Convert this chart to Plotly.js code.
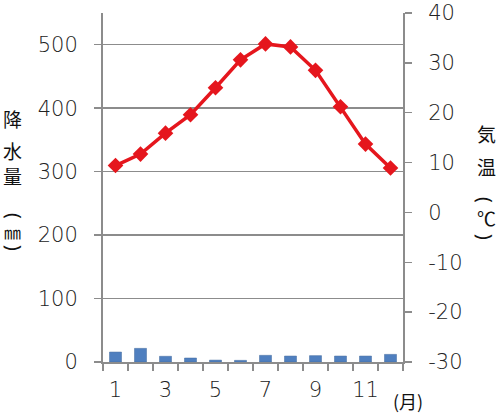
<!DOCTYPE html>
<html>
<head>
<meta charset="utf-8">
<script src="https://cdn.plot.ly/plotly-3.0.1.min.js"></script>
<style>html,body{margin:0;padding:0;background:#fff;}#chart{width:500px;height:414px;}</style>
</head>
<body>
<div id="chart"></div>
<script>
var months = ['1','2','3','4','5','6','7','8','9','10','11','12'];
var monthLabels = ['1','','3','','5','','7','','9','','11',''];
var precipitation = [15.7, 21.5, 9, 6.3, 3, 2.6, 10.5, 9.4, 10, 9.4, 9.4, 12];
var temperature = [9.4, 11.7, 15.9, 19.6, 25.0, 30.6, 33.8, 33.2, 28.5, 21.2, 13.7, 8.9];
var precipTicks = [0, 100, 200, 300, 400, 500];
var tempTicks = [-30, -20, -10, 0, 10, 20, 30, 40];
var leftTitle = ['降','水','量','(','㎜',')'];
var rightTitle = ['気','温','(','℃',')'];
var unitLabel = '(月)';

var W = 500, H = 414;
var M = {l: 103, r: 97, t: 13, b: 52};
var PW = W - M.l - M.r, PH = H - M.t - M.b;
function px(X){ return (X - M.l) / PW; }
function py(Y){ return 1 - (Y - M.t) / PH; }

var FONT = '"Noto Sans CJK JP", "Noto Sans", sans-serif';
var PFONT = '"Noto Sans", "DejaVu Sans", sans-serif';
var NFONT = '"DejaVu Sans", "Noto Sans", sans-serif';
var leftY = [118, 150, 175, 216, 231, 248];
var leftX = [12, 12, 12, 14, 12, 14];
var rightY = [133, 166, 200, 217, 237];
var rightX = [486, 486, 485, 486, 485];
var ann = [];
function addTitle(chars, ys, xs){
  chars.forEach(function(c, i){
    var paren = (c === '(' || c === ')');
    ann.push({text: c, xref: 'paper', yref: 'paper', x: px(xs[i]), y: py(ys[i]),
      xanchor: 'center', yanchor: 'middle', showarrow: false,
      textangle: paren ? 90 : 0,
      font: paren ? {family: PFONT, size: 19, color: '#111'}
                  : {family: FONT, size: (c === '㎜' ? 17 : 19), color: '#111'}});
  });
}
addTitle(leftTitle, leftY, leftX);
addTitle(rightTitle, rightY, rightX);
ann.push({text: unitLabel, xref: 'paper', yref: 'paper', x: px(408), y: py(401),
  xanchor: 'center', yanchor: 'middle', showarrow: false,
  font: {family: FONT, size: 18, color: '#111'}});

var traces = [
  {type: 'bar', x: months, y: precipitation, yaxis: 'y', width: 0.48,
   marker: {color: '#4f7fbf', line: {color: '#41699c', width: 0.5}}, hoverinfo: 'skip'},
  {type: 'scatter', mode: 'lines+markers', x: months, y: temperature, yaxis: 'y2',
   line: {color: '#e5161d', width: 3.5},
   marker: {symbol: 'diamond', size: 12, color: '#e5161d'}, hoverinfo: 'skip'}
];

var TF = {family: NFONT, size: 21, color: '#222', weight: 300};
var layout = {
  width: W, height: H,
  margin: M,
  paper_bgcolor: '#fff', plot_bgcolor: '#fff',
  showlegend: false,
  font: {family: FONT, size: 21, color: '#222'},
  xaxis: {type: 'category', tickmode: 'array', tickvals: months, ticktext: monthLabels,
    tickson: 'boundaries', ticks: 'outside', ticklen: 7, tickwidth: 1.5, tickcolor: '#8c8c8c',
    tickangle: 0, ticklabelstandoff: 8, ticklabeloverflow: 'allow',
    showline: true, linecolor: '#8c8c8c', linewidth: 2, showgrid: false, zeroline: false,
    range: [-0.5, 11.5], tickfont: TF},
  yaxis: {range: [0, 550], tickmode: 'array', tickvals: precipTicks,
    ticktext: precipTicks.map(String),
    ticks: 'outside', ticklen: 7, tickwidth: 1.5, tickcolor: '#8c8c8c',
    showline: true, linecolor: '#8c8c8c', linewidth: 2,
    showgrid: true, gridcolor: '#8c8c8c', gridwidth: 1.5, zeroline: false,
    ticklabelstandoff: 12, ticklabeloverflow: 'allow', tickfont: TF},
  yaxis2: {range: [-30, 40], tickmode: 'array', tickvals: tempTicks,
    ticktext: tempTicks.map(String), overlaying: 'y', side: 'right',
    ticks: 'outside', ticklen: 7, tickwidth: 1.5, tickcolor: '#8c8c8c',
    showline: true, linecolor: '#8c8c8c', linewidth: 2,
    showgrid: false, zeroline: false, ticklabelstandoff: 12, ticklabeloverflow: 'allow', tickfont: TF},
  annotations: ann
};

Plotly.newPlot('chart', traces, layout, {displayModeBar: false, staticPlot: true});
</script>
</body>
</html>
